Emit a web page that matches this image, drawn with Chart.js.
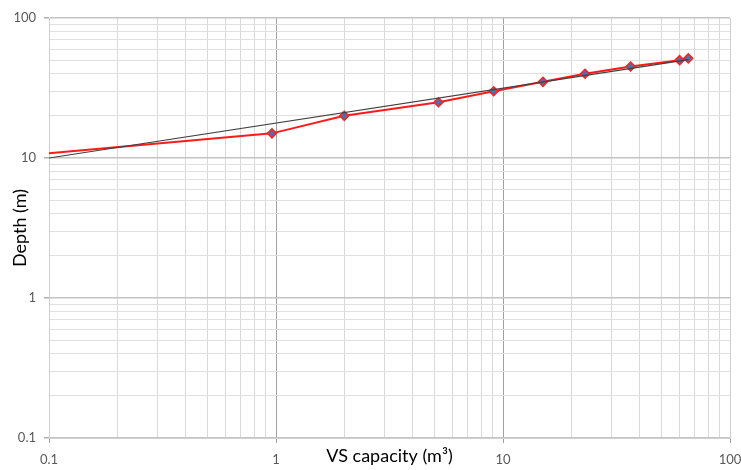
<!DOCTYPE html>
<html>
<head>
<meta charset="utf-8">
<script src="https://cdn.jsdelivr.net/npm/chart.js@4/dist/chart.umd.min.js"></script>
<style>
html,body{margin:0;padding:0;background:#fff;}
canvas{display:block;}
</style>
</head>
<body>
<canvas id="c" width="741" height="470"></canvas>
<script>
// Measured data (VS capacity in m3, depth in m)
const capacity = [0.1, 0.96, 2, 5.2, 9.1, 15, 23, 36.5, 60, 65.5];
const depth = [10.8, 15, 20, 25, 30, 35, 40, 45, 50, 51.5];
// Trendline endpoints
const trendCapacity = [0.1, 65.5];
const trendDepth = [10, 50.5];
// Axis ticks
const majorTicks = [0.1, 1, 10, 100];
const majorLabels = ['0.1', '1', '10', '100'];
const minorSteps = [2, 3, 4, 5, 6, 7, 8, 9];

function allTicks() {
  const t = [];
  for (let i = 0; i < majorTicks.length; i++) {
    t.push({value: majorTicks[i]});
    if (i < majorTicks.length - 1) {
      minorSteps.forEach(m => t.push({value: +(majorTicks[i] * m).toPrecision(3)}));
    }
  }
  return t;
}
function isMajor(v) { return majorTicks.some(m => Math.abs(m - v) < 1e-9); }
function label(v) {
  const i = majorTicks.findIndex(m => Math.abs(m - v) < 1e-9);
  return i >= 0 ? majorLabels[i] : '';
}

const FONT = 'Lato, "Open Sans", sans-serif';

new Chart(document.getElementById('c'), {
  type: 'line',
  data: {
    datasets: [
      {
        label: 'Trend',
        data: trendCapacity.map((x, i) => ({x, y: trendDepth[i]})),
        borderColor: '#404040',
        borderWidth: 1.2,
        pointRadius: 0,
        fill: false,
        tension: 0
      },
      {
        label: 'Depth',
        data: capacity.map((x, i) => ({x, y: depth[i]})),
        borderColor: '#ff1a1a',
        borderWidth: 2,
        pointStyle: 'rectRot',
        pointRadius: capacity.map((x, i) => i === 0 ? 0 : 4.5),
        pointBackgroundColor: '#4f6fa8',
        pointBorderColor: '#ff2020',
        pointBorderWidth: 1.5,
        fill: false,
        tension: 0
      }
    ]
  },
  options: {
    responsive: false,
    animation: false,
    layout: {padding: {top: 18, right: 11, left: 0, bottom: 0}},
    plugins: {legend: {display: false}, tooltip: {enabled: false}},
    scales: {
      x: {
        type: 'logarithmic',
        min: 0.1, max: 100,
        afterBuildTicks: s => { s.ticks = allTicks(); },
        afterFit: s => { s.height = 32; s.paddingRight = 0; s.paddingLeft = 0; },
        border: {color: '#d0d0d0', width: 1},
        grid: {
          color: c => isMajor(c.tick.value) ? (c.tick.value === 0.1 || c.tick.value === 100 ? '#cfcfcf' : '#a0a0a0') : '#d9d9d9',
          lineWidth: 1,
          tickLength: 5,
          tickColor: c => isMajor(c.tick.value) ? '#a0a0a0' : 'rgba(0,0,0,0)'
        },
        ticks: {
          autoSkip: false,
          maxRotation: 0,
          padding: 9,
          color: '#595959',
          font: {family: FONT, size: 13},
          callback: v => label(v)
        },
        title: {
          display: true,
          text: 'VS capacity (m³)',
          color: '#000',
          font: {family: FONT, size: 18},
          padding: {top: 0, bottom: 3}
        }
      },
      y: {
        type: 'logarithmic',
        min: 0.1, max: 100,
        afterBuildTicks: s => { s.ticks = allTicks(); },
        afterFit: s => { s.width = 49; s.paddingTop = 0; s.paddingBottom = 0; },
        border: {color: '#d0d0d0', width: 1},
        grid: {
          color: c => isMajor(c.tick.value) ? '#c4c4c4' : '#e0e0e0',
          lineWidth: c => isMajor(c.tick.value) ? 1.5 : 1,
          tickLength: 5,
          tickColor: c => isMajor(c.tick.value) ? '#b0b0b0' : 'rgba(0,0,0,0)'
        },
        ticks: {
          autoSkip: false,
          padding: 8,
          color: '#595959',
          font: {family: FONT, size: 13},
          callback: v => label(v)
        },
        title: {
          display: true,
          text: 'Depth (m)',
          color: '#000',
          font: {family: FONT, size: 18},
          padding: {top: 9, bottom: 0}
        }
      }
    }
  }
});
</script>
</body>
</html>
